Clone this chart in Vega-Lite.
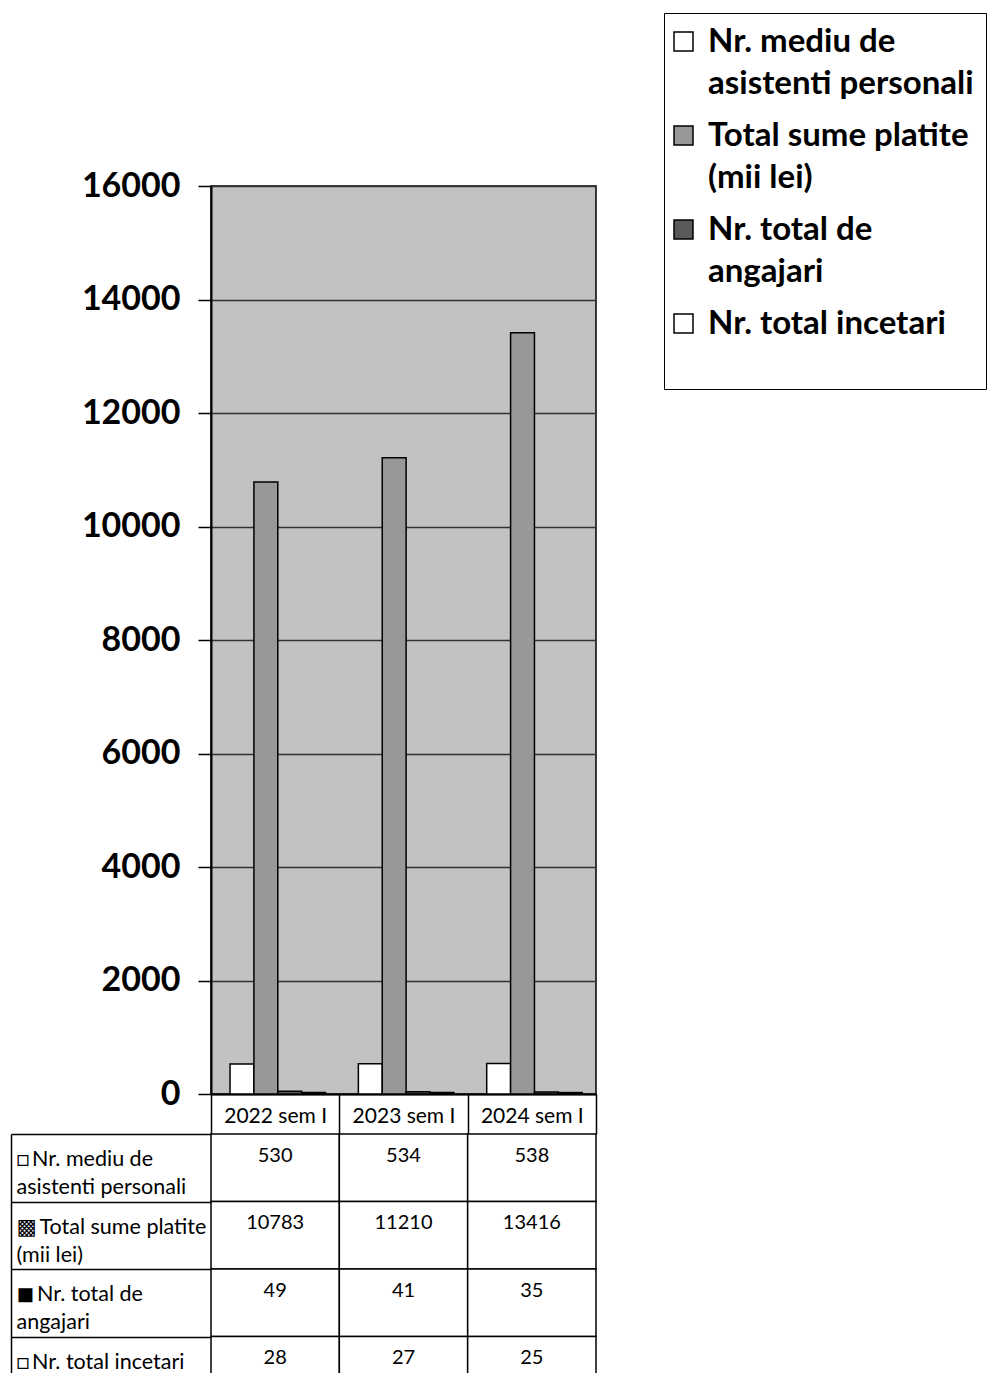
{
  "$schema": "https://vega.github.io/schema/vega-lite/v6.json",
  "autosize": {"type": "pad"},
  "padding": {"left": 10, "top": 12, "right": 0, "bottom": 0},
  "background": "white",
  "config": {"font": "Lato", "style": {"guide-label": {"lineHeight": 42}}},
  "bounds": "flush",
  "spacing": 40,
  "data": {"values": [
    {"period": "2022 sem I", "series": "Nr. mediu de asistenti personali", "value": 530},
    {"period": "2022 sem I", "series": "Total sume platite (mii lei)", "value": 10783},
    {"period": "2022 sem I", "series": "Nr. total de angajari", "value": 49},
    {"period": "2022 sem I", "series": "Nr. total incetari", "value": 28},
    {"period": "2023 sem I", "series": "Nr. mediu de asistenti personali", "value": 534},
    {"period": "2023 sem I", "series": "Total sume platite (mii lei)", "value": 11210},
    {"period": "2023 sem I", "series": "Nr. total de angajari", "value": 41},
    {"period": "2023 sem I", "series": "Nr. total incetari", "value": 27},
    {"period": "2024 sem I", "series": "Nr. mediu de asistenti personali", "value": 538},
    {"period": "2024 sem I", "series": "Total sume platite (mii lei)", "value": 13416},
    {"period": "2024 sem I", "series": "Nr. total de angajari", "value": 35},
    {"period": "2024 sem I", "series": "Nr. total incetari", "value": 25}
  ]},
  "vconcat": [
    {
      "width": 385,
      "height": 908,
      "view": {"fill": "#c2c2c2", "stroke": "black", "strokeWidth": 1.5},
      "mark": {"type": "bar", "stroke": "black", "strokeWidth": 1.5},
      "encoding": {
        "x": {
          "field": "period", "type": "nominal", "sort": null,
          "scale": {"paddingInner": 0, "paddingOuter": 0},
          "axis": {"title": null, "orient": "bottom", "tickBand": "extent", "tickSize": 40, "tickColor": "black", "tickWidth": 1.5, "domainColor": "black", "domainWidth": 2, "labelAngle": 0, "labelFontSize": 21, "labelColor": "black", "labelBaseline": "middle", "labelPadding": -18, "grid": false}
        },
        "xOffset": {
          "field": "series", "type": "nominal",
          "sort": ["Nr. mediu de asistenti personali", "Total sume platite (mii lei)", "Nr. total de angajari", "Nr. total incetari"],
          "scale": {"paddingInner": 0, "paddingOuter": 0.6875, "align": 0.58}
        },
        "y": {
          "field": "value", "type": "quantitative",
          "scale": {"domain": [0, 16000], "nice": false},
          "axis": {"title": null, "values": [0, 2000, 4000, 6000, 8000, 10000, 12000, 14000, 16000], "format": "d", "grid": true, "gridColor": "#333333", "gridWidth": 1.5, "tickSize": 13, "tickColor": "black", "tickWidth": 1.5, "domainColor": "black", "domainWidth": 2, "labelFontSize": 34, "labelFontWeight": "bold", "labelColor": "black", "labelPadding": 18}
        },
        "color": {
          "field": "series", "type": "nominal",
          "scale": {"domain": ["Nr. mediu de asistenti personali", "Total sume platite (mii lei)", "Nr. total de angajari", "Nr. total incetari"], "range": ["#ffffff", "#989898", "#5a5a5a", "#ffffff"]},
          "legend": {
            "title": " ", "titleOrient": "bottom", "titleFontSize": 28, "titlePadding": 8,
            "orient": "none", "legendX": 453, "legendY": -173,
            "symbolType": "square", "symbolSize": 361, "symbolStrokeColor": "black", "symbolStrokeWidth": 1.5, "symbolOffset": -9,
            "labelFontSize": 33, "labelFontWeight": "bold", "labelColor": "black", "labelLimit": 0, "labelOffset": 8,
            "rowPadding": 18, "padding": 12, "strokeColor": "black", "fillColor": "white",
            "labelExpr": "datum.label == 'Nr. mediu de asistenti personali' ? ['Nr. mediu de', 'asistenti personali'] : datum.label == 'Total sume platite (mii lei)' ? ['Total sume platite', '(mii lei)'] : datum.label == 'Nr. total de angajari' ? ['Nr. total de', 'angajari'] : datum.label"
          }
        }
      }
    },
    {
      "width": 385,
      "height": 270,
      "view": {"stroke": null},
      "encoding": {
        "x": {"field": "period", "type": "nominal", "sort": null, "scale": {"paddingInner": 0, "paddingOuter": 0}, "axis": null},
        "y": {
          "field": "series", "type": "nominal",
          "sort": ["Nr. mediu de asistenti personali", "Total sume platite (mii lei)", "Nr. total de angajari", "Nr. total incetari"],
          "scale": {"paddingInner": 0, "paddingOuter": 0},
          "axis": {"title": null, "orient": "left", "offset": 200, "tickSize": -200, "tickBand": "extent", "tickColor": "black", "tickWidth": 1.5, "domainColor": "black", "domainWidth": 1.5, "labelAlign": "left", "labelBaseline": "top", "labelPadding": 195, "labelOffset": -19, "labelFont": "Lato, DejaVu Sans", "labelFontSize": 21.5, "labelColor": "black", "labelLineHeight": 28, "labelLimit": 0,
            "labelExpr": "datum.label == 'Nr. mediu de asistenti personali' ? ['□\u2009Nr. mediu de', 'asistenti personali'] : datum.label == 'Total sume platite (mii lei)' ? ['▩\u2009Total sume platite', '(mii lei)'] : datum.label == 'Nr. total de angajari' ? ['◼\u2009Nr. total de', 'angajari'] : datum.label == 'Nr. total incetari' ? '□\u2009Nr. total incetari' : ''"}
        }
      },
      "layer": [
        {"mark": {"type": "rect", "fill": "white", "stroke": "black", "strokeWidth": 1.5}},
        {"mark": {"type": "text", "baseline": "top", "dy": -22, "fontSize": 20, "color": "black"}, "encoding": {"text": {"field": "value", "type": "quantitative", "format": "d"}}}
      ]
    }
  ]
}
